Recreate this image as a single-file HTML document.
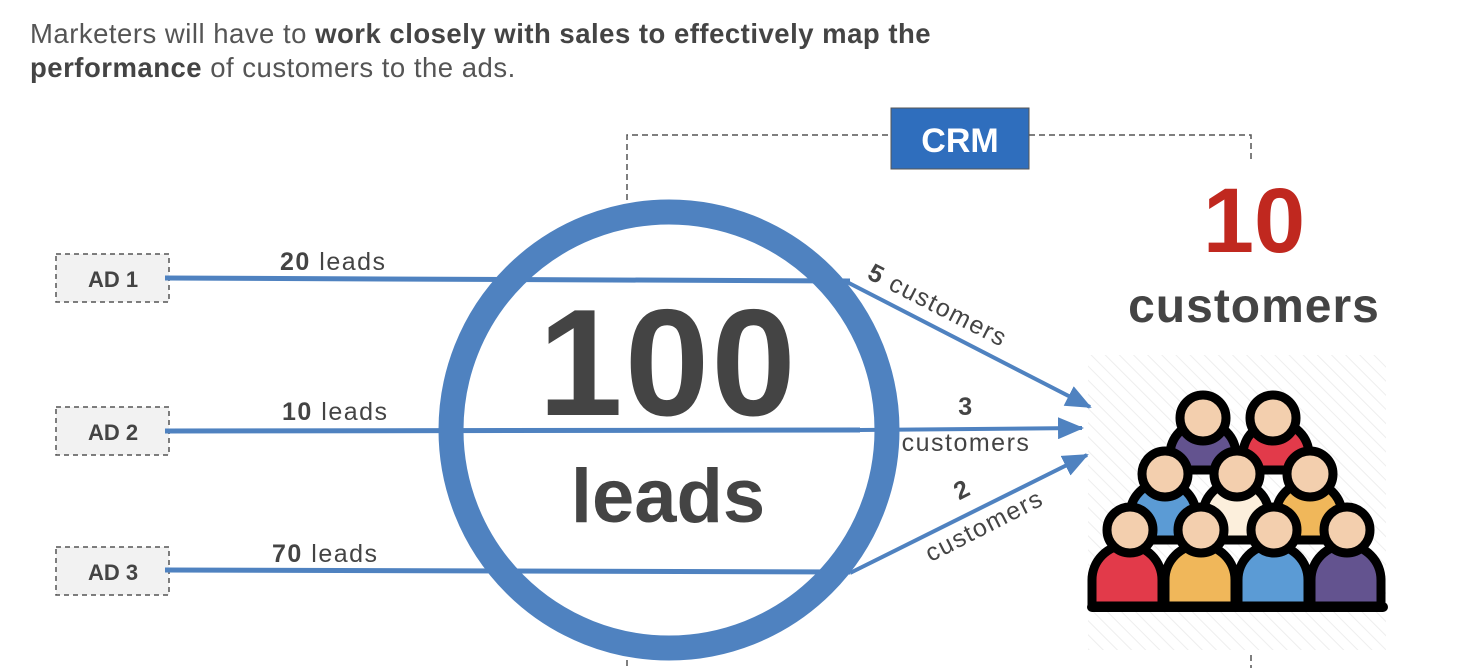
<!DOCTYPE html>
<html><head><meta charset="utf-8"><style>
html,body{margin:0;padding:0;background:#fff;}
body{width:1458px;height:668px;position:relative;overflow:hidden;font-family:"Liberation Sans",sans-serif;color:#444;}
.t{position:absolute;white-space:nowrap;}
</style></head><body>
<div class="t" style="left:30px;top:17px;font-size:27.5px;line-height:34px;color:#555;letter-spacing:0.5px;">Marketers will have to <b style="color:#444">work closely with sales to effectively map the</b><br><b style="color:#444">performance</b> of customers to the ads.</div>
<svg width="1458" height="668" style="position:absolute;left:0;top:0" xmlns="http://www.w3.org/2000/svg">
<defs>
<pattern id="h" width="10" height="10" patternUnits="userSpaceOnUse" patternTransform="rotate(-45)"><line x1="0" y1="0" x2="0" y2="10" stroke="#eee" stroke-width="2"/></pattern>
<marker id="ar" markerWidth="26" markerHeight="22" refX="24" refY="11" orient="auto" markerUnits="userSpaceOnUse" viewBox="0 0 26 22"><path d="M0,0 L26,11 L0,22 z" fill="#4f82c0"/></marker>
</defs>
<g stroke="#555" stroke-width="1.5" stroke-dasharray="6,4" fill="none">
<path d="M627,200 V135 H891"/><path d="M1029,135 H1251 V160"/>
<line x1="627" y1="650" x2="627" y2="668"/><line x1="1251" y1="655" x2="1251" y2="668"/>
</g>
<rect x="891" y="108" width="138" height="61" fill="#2f6ebd" stroke="#555" stroke-width="1"/>
<text x="960" y="152" text-anchor="middle" font-size="34" font-weight="bold" fill="#fff" font-family="Liberation Sans">CRM</text>
<g fill="#f2f2f2" stroke="#555" stroke-width="1.5" stroke-dasharray="5,4">
<rect x="56" y="254" width="113" height="48"/><rect x="56" y="407" width="113" height="48"/><rect x="56" y="547" width="113" height="48"/>
</g>
<g font-size="22" font-weight="bold" fill="#444" text-anchor="middle">
<text x="113" y="287">AD 1</text><text x="113" y="440">AD 2</text><text x="113" y="580">AD 3</text>
</g>
<g stroke="#4f82c0" stroke-width="5" fill="none">
<line x1="165" y1="278" x2="850" y2="281"/>
<line x1="165" y1="431" x2="860" y2="430"/>
<line x1="165" y1="570" x2="850" y2="572"/>
</g>
<g stroke="#4f82c0" stroke-width="4" fill="none" marker-end="url(#ar)">
<line x1="845" y1="281" x2="1090" y2="407"/>
<line x1="860" y1="430" x2="1082" y2="428"/>
<line x1="850" y1="573" x2="1087" y2="455"/>
</g>
<circle cx="669" cy="430" r="218" fill="none" stroke="#4f82c0" stroke-width="25"/>
<text x="668" y="415" text-anchor="middle" font-size="152" font-weight="bold" fill="#444" letter-spacing="2">100</text>
<text x="668" y="522" text-anchor="middle" font-size="76" font-weight="bold" fill="#444">leads</text>
<g font-size="25" fill="#444" letter-spacing="1.5">
<text x="280" y="270"><tspan font-weight="bold">20</tspan> leads</text>
<text x="282" y="420"><tspan font-weight="bold">10</tspan> leads</text>
<text x="272" y="562"><tspan font-weight="bold">70</tspan> leads</text>
<text transform="translate(866,278) rotate(27)"><tspan font-weight="bold">5</tspan> customers</text>
<text x="966" y="415" text-anchor="middle" font-weight="bold">3</text>
<text x="966" y="451" text-anchor="middle">customers</text>
<text transform="translate(966,497) rotate(-27)" text-anchor="middle" font-weight="bold">2</text>
<text transform="translate(988,533) rotate(-27)" text-anchor="middle">customers</text>
</g>
<text x="1254" y="252" text-anchor="middle" font-size="92" font-weight="bold" fill="#c0281f">10</text>
<text x="1254" y="322" text-anchor="middle" font-size="48" font-weight="bold" fill="#444" letter-spacing="1">customers</text>
<rect x="1088" y="355" width="298" height="295" fill="url(#h)"/>
<g stroke="#000" stroke-width="9" stroke-linejoin="round">
<path d="M1170,470 V455 a33,33 0 0 1 66,0 V470 z" fill="#63538f"/>
<path d="M1243,470 V455 a33,33 0 0 1 66,0 V470 z" fill="#e23a4a"/>
<circle cx="1203" cy="418" r="23" fill="#f3cfae"/><circle cx="1273" cy="418" r="23" fill="#f3cfae"/>
<path d="M1130,540 V515 a33,33 0 0 1 66,0 V540 z" fill="#5b9bd5"/>
<path d="M1203,540 V515 a33,33 0 0 1 66,0 V540 z" fill="#fcefdc"/>
<path d="M1276,540 V515 a33,33 0 0 1 66,0 V540 z" fill="#f0b75a"/>
<circle cx="1165" cy="474" r="23" fill="#f3cfae"/><circle cx="1237" cy="474" r="23" fill="#f3cfae"/><circle cx="1310" cy="474" r="23" fill="#f3cfae"/>
<path d="M1092,606 V580 a35,35 0 0 1 70,0 V606 z" fill="#e23a4a"/>
<path d="M1165,606 V580 a35,35 0 0 1 70,0 V606 z" fill="#f0b75a"/>
<path d="M1238,606 V580 a35,35 0 0 1 70,0 V606 z" fill="#5b9bd5"/>
<path d="M1311,606 V580 a35,35 0 0 1 70,0 V606 z" fill="#63538f"/>
<circle cx="1130" cy="530" r="23" fill="#f3cfae"/><circle cx="1201" cy="530" r="23" fill="#f3cfae"/><circle cx="1274" cy="530" r="23" fill="#f3cfae"/><circle cx="1347" cy="530" r="23" fill="#f3cfae"/>
</g>
<line x1="1092" y1="607" x2="1383" y2="607" stroke="#000" stroke-width="10" stroke-linecap="round"/>
</svg>
</body></html>
